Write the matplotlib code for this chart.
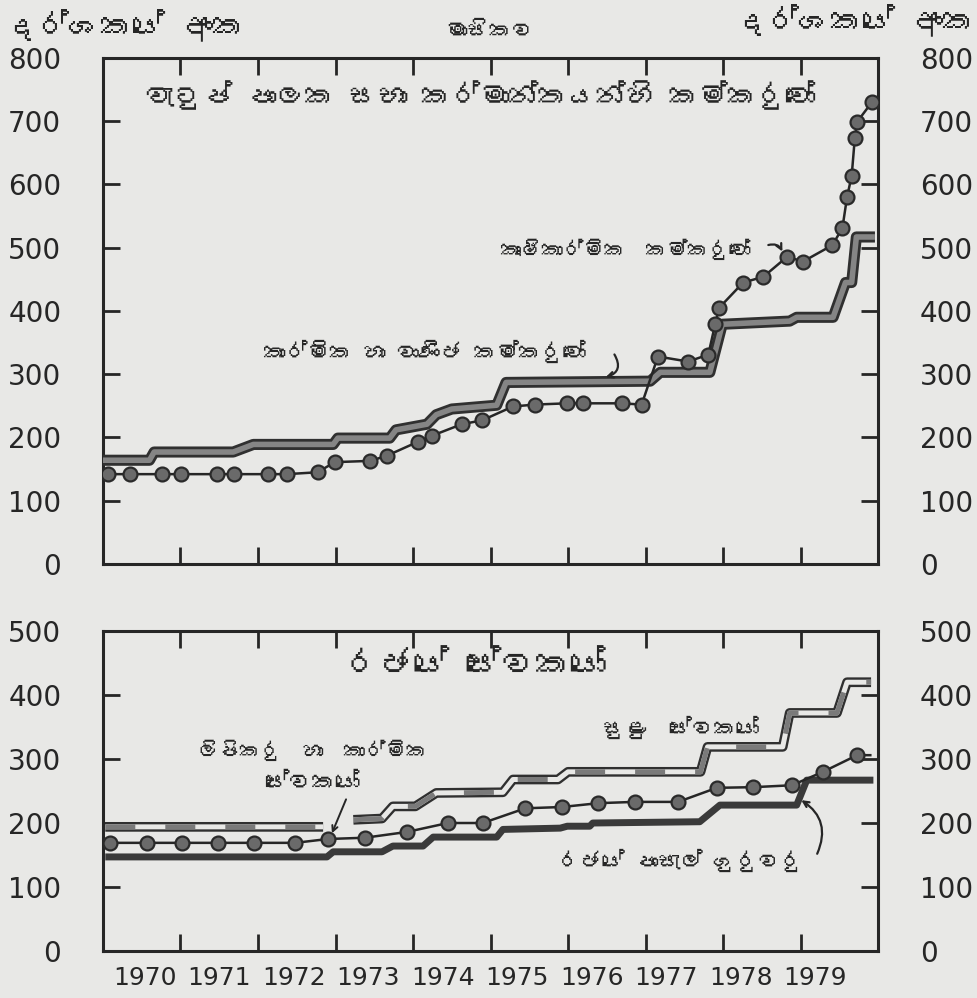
import numpy as np
import matplotlib
matplotlib.use("Agg")
import matplotlib.pyplot as plt
from matplotlib import font_manager, ft2font

# index numbers, monthly, 1970-1979
# top panel: workers in wages board trades
ind_x = [1970.00, 1970.60, 1970.66, 1971.68, 1971.94, 1972.97, 1973.03, 1973.70,
         1973.78, 1974.18, 1974.30, 1974.50, 1975.08, 1975.20, 1977.06, 1977.19,
         1977.83, 1977.99, 1978.86, 1978.95, 1979.42, 1979.58, 1979.66, 1979.72, 1979.96]
ind_y = [164, 164, 177, 177, 189, 189, 199, 199,
         212, 221, 236, 245, 251, 287, 289, 303,
         303, 379, 384, 390, 390, 445, 445, 517, 517]

agr_x = [1970.06, 1970.35, 1970.76, 1971.01, 1971.47, 1971.69, 1972.13, 1972.37,
         1972.77, 1972.99, 1973.45, 1973.66, 1974.06, 1974.25, 1974.63, 1974.89,
         1975.29, 1975.57, 1975.99, 1976.19, 1976.70, 1976.95, 1977.16, 1977.55,
         1977.81, 1977.90, 1977.95, 1978.26, 1978.52, 1978.83, 1979.03, 1979.41,
         1979.54, 1979.60, 1979.66, 1979.70, 1979.73, 1979.92]
agr_y = [142, 142, 142, 142, 142, 142, 142, 142,
         145, 161, 163, 171, 193, 203, 221, 227,
         249, 252, 254, 254, 254, 252, 328, 320,
         331, 380, 405, 445, 454, 486, 478, 504,
         531, 580, 614, 673, 699, 730]

# bottom panel: government employees
minor_x = [1970.03, 1972.84, np.nan, 1973.23, 1973.60, 1973.74, 1974.03, 1974.30,
           1975.16, 1975.29, 1975.87, 1976.00, 1977.71, 1977.80, 1978.77, 1978.86,
           1979.47, 1979.60, 1979.91]
minor_y = [194, 194, np.nan, 205, 207, 226, 226, 247,
           248, 268, 268, 280, 280, 319, 319, 372,
           372, 420, 420]

cler_x = [1970.09, 1970.57, 1971.02, 1971.48, 1971.95, 1972.48, 1972.90, 1973.38,
          1973.92, 1974.45, 1974.90, 1975.45, 1975.92, 1976.39, 1976.86, 1977.42,
          1977.92, 1978.39, 1978.89, 1979.29, 1979.73, 1979.90]
cler_y = [169, 169, 169, 169, 169, 169, 175, 177,
          186, 200, 200, 223, 225, 231, 233, 233,
          255, 256, 259, 280, 306, 306]

teach_x = [1970.03, 1972.89, 1972.97, 1973.60, 1973.74, 1974.13, 1974.26, 1975.08,
           1975.16, 1975.90, 1975.99, 1976.28, 1976.32, 1977.70, 1977.96, 1978.95,
           1979.08, 1979.94]
teach_y = [147, 147, 155, 155, 164, 164, 178, 178,
           190, 192, 195, 195, 200, 202, 228, 228,
           267, 267]

years = list(range(1970, 1980))

HEAD = "දර්ශකයේ අංක"
MONTHLY = "මාසිකව"
TOP_TITLE = "වැටුප් පාලක සභා කර්මාන්තයන්හි කම්කරුවෝ"
AGR = "කෘෂිකාර්මික  කම්කරුවෝ"
IND = "කාර්මික හා වාණිජ කම්කරුවෝ"
BOT_TITLE = "රජයේ සේවකයෝ"
CLER1 = "ලිපිකරු  හා  කාර්මික"
CLER2 = "සේවකයෝ"
MINOR = "සුළු  සේවකයෝ"
TEACH = "රජයේ පාසැල් ගුරුවරු"


def sinhala_family():
    # look for any installed face that has Sinhala glyphs
    for f in font_manager.fontManager.ttflist:
        try:
            if ft2font.FT2Font(f.fname).get_char_index(0x0D9A):
                return f.name
        except Exception:
            pass
    return None


sf = sinhala_family()
SIN = [sf, "DejaVu Sans"] if sf else ["DejaVu Sans"]
names = {f.name for f in font_manager.fontManager.ttflist}
NUM = ["Liberation Sans Narrow", "DejaVu Sans"] if "Liberation Sans Narrow" in names else ["DejaVu Sans"]

PAPER = "#e8e8e6"
INK = "#262626"

fig = plt.figure(figsize=(9.78, 9.98), dpi=100, facecolor=PAPER)
ax1 = fig.add_axes([0.1053, 0.4349, 0.7925, 0.5070])
ax2 = fig.add_axes([0.1053, 0.0471, 0.7925, 0.3206])

for ax, top in ((ax1, 800), (ax2, 500)):
    ax.set_facecolor(PAPER)
    ax.set_xlim(1970, 1980)
    ax.set_ylim(0, top)
    for s in ax.spines.values():
        s.set_linewidth(2.2)
        s.set_color(INK)
    ax.set_yticks(np.arange(0, top + 1, 100))
    ax.set_xticks(range(1971, 1980))
    ax.tick_params(axis="both", which="major", direction="in", length=12, width=2,
                   color=INK, top=True, bottom=True, left=True, right=True,
                   labelbottom=False)
    ax.tick_params(axis="y", labelleft=True, labelright=True, labelsize=20,
                   labelcolor=INK, pad=30)
    for t in ax.yaxis.get_major_ticks():
        t.label1.set_family(NUM)
        t.label2.set_family(NUM)

# year labels under the bottom panel
ax2.set_xticks(np.linspace(1970.54, 1979.19, len(years)), minor=True)
ax2.set_xticklabels([str(y) for y in years], minor=True, family=NUM, fontsize=18,
                    color=INK)
ax2.tick_params(axis="x", which="minor", length=0, pad=11, labelbottom=True)

# top panel: thick band line + dotted line
ax1.plot(ind_x, ind_y, color="#303030", lw=8, solid_capstyle="butt", zorder=3)
ax1.plot(ind_x, ind_y, color="#858585", lw=4, solid_capstyle="butt", zorder=3)
ax1.plot(agr_x, agr_y, color=INK, lw=1.8, marker="o", ms=10, mfc="#6a6a6a",
         mec="#2a2a2a", mew=1.6, zorder=4)

# bottom panel
ax2.plot(minor_x, minor_y, color="#303030", lw=7, solid_capstyle="butt", zorder=3)
ax2.plot(minor_x, minor_y, color=PAPER, lw=3.6, solid_capstyle="butt", zorder=3)
ax2.plot(minor_x, minor_y, color="#7a7a7a", lw=3.6, ls=(0, (6, 6)), zorder=3)
ax2.plot(cler_x, cler_y, color=INK, lw=1.8, marker="o", ms=10, mfc="#6a6a6a",
         mec="#2a2a2a", mew=1.6, markevery=list(range(len(cler_x) - 1)), zorder=4)
ax2.plot(teach_x, teach_y, color="#3a3a3a", lw=5, solid_capstyle="butt", zorder=3)

# labels
ax1.text(1974.86, 741, TOP_TITLE, family=SIN, fontsize=21, fontweight="bold",
         ha="center", va="center", color=INK)
ax1.text(1976.74, 497, AGR, family=SIN, fontsize=15, ha="center", va="center", color=INK)
ax1.text(1974.15, 336, IND, family=SIN, fontsize=16, fontweight="bold",
         ha="center", va="center", color=INK)
ax1.annotate("", xy=(1978.78, 490), xytext=(1978.55, 503),
             arrowprops=dict(arrowstyle="->", lw=1.6, color=INK,
                             connectionstyle="arc3,rad=-0.5"))
ax1.annotate("", xy=(1976.45, 294), xytext=(1976.58, 335),
             arrowprops=dict(arrowstyle="->", lw=1.6, color=INK,
                             connectionstyle="arc3,rad=-0.7"))

ax2.text(1974.8, 447, BOT_TITLE, family=SIN, fontsize=25, fontweight="bold",
         ha="center", va="center", color=INK)
ax2.text(1972.7, 314, CLER1, family=SIN, fontsize=15, ha="center", va="center", color=INK)
ax2.text(1972.7, 262, CLER2, family=SIN, fontsize=17, ha="center", va="center", color=INK)
ax2.text(1977.45, 350, MINOR, family=SIN, fontsize=16, ha="center", va="center", color=INK)
ax2.text(1977.45, 142, TEACH, family=SIN, fontsize=16, ha="center", va="center", color=INK)
ax2.annotate("", xy=(1972.94, 180), xytext=(1973.15, 241),
             arrowprops=dict(arrowstyle="->", lw=1.4, color=INK))
ax2.annotate("", xy=(1978.98, 238), xytext=(1979.2, 148),
             arrowprops=dict(arrowstyle="->", lw=1.6, color=INK,
                             connectionstyle="arc3,rad=0.45"))

# headers
fig.text(0.005, 1 - 25 / 998, HEAD, family=SIN, fontsize=23, fontweight="bold",
         ha="left", va="center", color=INK)
fig.text(490 / 978, 1 - 32 / 998, MONTHLY, family=SIN, fontsize=16,
         ha="center", va="center", color=INK)
fig.text(975 / 978, 1 - 20 / 998, HEAD, family=SIN, fontsize=23, fontweight="bold",
         ha="right", va="center", color=INK)

fig.savefig("out.png", dpi=100, facecolor=PAPER)
